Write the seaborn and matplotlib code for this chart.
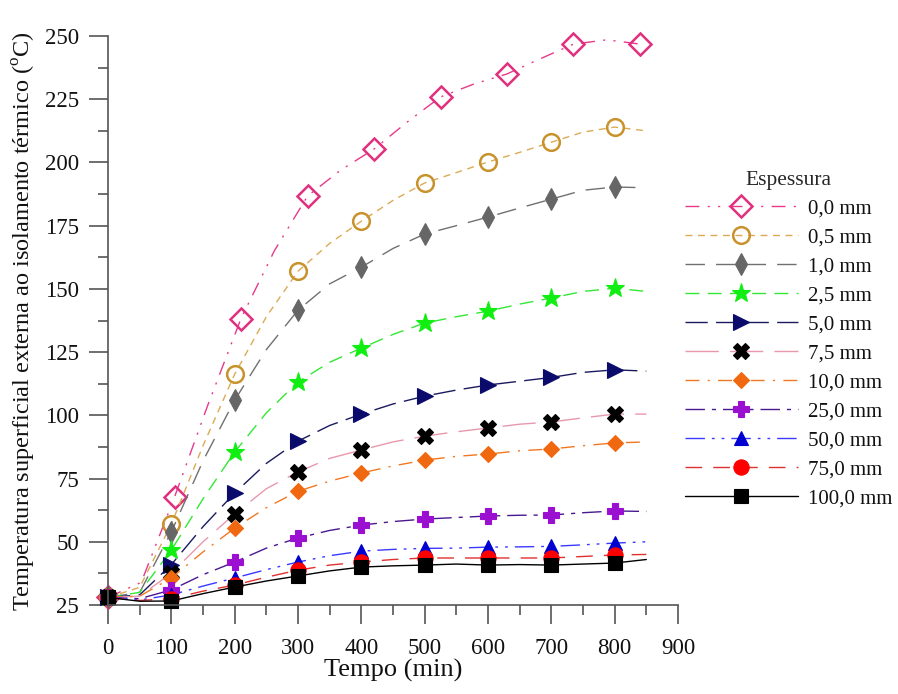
import numpy as np
import pandas as pd
import seaborn as sns
import matplotlib.pyplot as plt
from matplotlib.ticker import MultipleLocator

# Dados (tempo em min, temperatura em oC)
tempo = [0, 50, 100, 150, 200, 250, 300, 350, 400, 450, 500, 550, 600, 650, 700, 750, 800, 850]
tempo_00 = [0, 52.5, 105, 157.5, 210, 262.5, 315, 367.5, 420, 472.5, 525, 577.5, 630, 682.5, 735, 787.5, 840]

t_00 = [28, 34, 67.7, 104, 138.3, 165, 186.7, 197, 205.3, 216, 225.9, 231, 235, 241, 246.8, 248.5, 246.8]
t_05 = [28, 32, 57, 88, 116.3, 139, 157, 168, 176.8, 185, 191.9, 196, 200.2, 204, 208, 212, 214, 212.5]
t_10 = [28, 30, 53.9, 82, 106, 126, 141.6, 152, 158.6, 166, 171.7, 175, 178.4, 182, 185.5, 189, 190.3, 190]
t_25 = [28, 30, 46.7, 67, 85.5, 101, 113.2, 121, 126.6, 132, 136.5, 139, 141.2, 144, 146.4, 149, 150.3, 149]
t_50 = [28, 29, 41, 56, 69.3, 81, 89.8, 96, 100.5, 104.5, 107.6, 110, 112, 113.5, 115, 117, 118, 117.5]
t_75 = [28, 28.5, 37.6, 50, 61, 71, 77.6, 83, 86.3, 89.5, 91.8, 93.5, 95, 96.5, 97.4, 99, 100.5, 100.5]
t_100 = [28, 28.5, 35.7, 46, 55.4, 63.5, 70, 74, 77.2, 80, 82.3, 83.8, 84.7, 86, 86.7, 88, 89.1, 89.5]
t_250 = [28, 27.5, 31, 37, 42, 47.5, 51.5, 54.5, 56.6, 58, 59, 59.6, 60.2, 60.5, 60.6, 61.5, 62.2, 62]
t_500 = [28, 27, 29, 32.5, 35.7, 39, 42, 44.5, 46.3, 47, 47.4, 47.5, 47.9, 48, 48.2, 48.8, 49.5, 50]
t_750 = [28, 26.8, 27.5, 30.5, 32.9, 36, 38.8, 40.8, 42, 43, 43.6, 43.6, 43.6, 43.6, 43.6, 44.2, 44.8, 45]
t_1000 = [28, 26.5, 26.6, 29.5, 32.1, 34.5, 36.5, 38.5, 40, 40.5, 40.8, 41.2, 40.8, 41, 40.8, 41.2, 41.6, 43]

rotulos = ["0,0 mm", "0,5 mm", "1,0 mm", "2,5 mm", "5,0 mm", "7,5 mm",
           "10,0 mm", "25,0 mm", "50,0 mm", "75,0 mm", "100,0 mm"]

# estilo de cada serie: (x, y, cor linha, marcador, cor marcador, face, tamanho, tracejado)
series = [
    (tempo_00, t_00, "#e8388a", "D", "#e0307f", "none", 11, (0, (10, 6, 1.5, 6, 1.5, 6))),
    (tempo, t_05, "#dcaa55", "o", "#c8922c", "none", 12, (0, (5, 4))),
    (tempo, t_10, "#707070", "d", "#666666", "#666666", 11, (0, (14, 8))),
    (tempo, t_25, "#33e833", "*", "#11ee11", "#11ee11", 14, (0, (10, 6))),
    (tempo, t_50, "#1a1a5e", ">", "#0b0b6b", "#0b0b6b", 11, (0, (16, 6))),
    (tempo, t_75, "#e898ad", "X", "#000000", "#000000", 11, (0, (24, 8))),
    (tempo, t_100, "#f07822", "D", "#f0680f", "#f0680f", 8, (0, (10, 6, 1.5, 6))),
    (tempo, t_250, "#4a1890", "P", "#9b10d0", "#9b10d0", 11, (0, (14, 5, 3, 5))),
    (tempo, t_500, "#3a3aff", "^", "#0000d0", "#0000d0", 10, (0, (14, 5, 2, 5, 2, 5))),
    (tempo, t_750, "#e03030", "o", "#ff0000", "#ff0000", 11, (0, (12, 8))),
    (tempo, t_1000, "#000000", "s", "#000000", "#000000", 10, "-"),
]

sns.set_theme(style="ticks")
plt.rcParams['font.family'] = ['Liberation Serif', 'DejaVu Serif']
plt.rcParams['mathtext.fontset'] = 'custom'
plt.rcParams['mathtext.rm'] = 'Liberation Serif'

fig = plt.figure(figsize=(8.98, 6.94), dpi=100)
ax = fig.add_axes([0.1203, 0.1282, 0.6347, 0.8199])

for (x, y, cor, mk, mcor, face, ms, ls), rot in zip(series, rotulos):
    df = pd.DataFrame({"Tempo": x, "Temp": y})
    sns.lineplot(data=df, x="Tempo", y="Temp", ax=ax, color=cor, linewidth=1.0,
                 linestyle=ls, marker=mk, markevery=2, markersize=ms,
                 markeredgecolor=mcor, markerfacecolor=face,
                 markeredgewidth=1.8 if face == "none" else 0.8,
                 clip_on=False, label=rot)

ax.set_xlim(0, 900)
ax.set_ylim(25, 250)
ax.xaxis.set_major_locator(MultipleLocator(100))
ax.xaxis.set_minor_locator(MultipleLocator(50))
ax.yaxis.set_major_locator(MultipleLocator(25))
ax.yaxis.set_minor_locator(MultipleLocator(12.5))

for s in ["top", "right"]:
    ax.spines[s].set_visible(False)
for s in ["left", "bottom"]:
    ax.spines[s].set_color("#555555")
    ax.spines[s].set_linewidth(1.2)

ax.tick_params(which="major", length=14, width=1.2, color="#555555",
               labelsize=16.5, pad=7, labelcolor="#111111")
ax.tick_params(axis="x", which="major", pad=10)
ax.tick_params(which="minor", length=7, width=1.2, color="#555555")

ax.set_xlabel("Tempo (min)", fontsize=19, labelpad=0, color="#111111")
ax.set_ylabel("Temperatura superficial externa ao isolamento térmico ($^{\\mathrm{o}}$C)",
              fontsize=17.5, labelpad=5, color="#111111")

leg = ax.legend(title="Espessura", loc="upper left", bbox_to_anchor=(0.763, 0.754),
                bbox_transform=fig.transFigure, frameon=False, fontsize=15,
                title_fontsize=15.5, handlelength=5.4, handletextpad=0.5,
                labelspacing=0.45, borderpad=0, borderaxespad=0)
for txt in leg.get_texts():
    txt.set_color("#111111")

fig.savefig("out.png", dpi=100)
